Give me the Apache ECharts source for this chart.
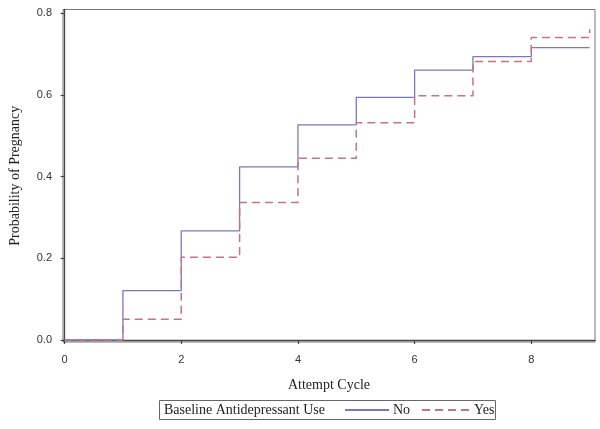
<!DOCTYPE html>
<html><head><meta charset="utf-8">
<script src="https://cdn.jsdelivr.net/npm/echarts@6/dist/echarts.min.js"></script>
<style>html,body{margin:0;padding:0;background:#fff}#c{width:600px;height:429px}</style>
</head><body><div id="c"></div>
<script>
const cycles = [0,1,2,3,4,5,6,7,8,9];
const noValues  = [0,0.121,0.267,0.424,0.527,0.594,0.661,0.694,0.716,0.716];
const yesValues = [0,0.051,0.2025,0.337,0.445,0.532,0.598,0.682,0.741,0.761];
const xTicks = [0,2,4,6,8];
const yTicks = [0,0.2,0.4,0.6,0.8];
const legendTitle = 'Baseline Antidepressant Use';

const chart = echarts.init(document.getElementById('c'), null, {renderer:'canvas'});
const serif = 'Liberation Serif';
const sans = 'Liberation Sans';
const axisColor = '#444';
chart.setOption({
  animation:false,
  grid:{left:61,right:5,top:9.5,bottom:87,show:true,borderColor:'#777',borderWidth:1,backgroundColor:'transparent'},
  xAxis:{type:'value',min:-0.027,max:9.092,
    name:'Attempt Cycle',nameLocation:'middle',nameGap:36,
    nameTextStyle:{fontFamily:serif,fontSize:14,color:'#222'},
    axisLine:{show:true,lineStyle:{color:axisColor,width:1.3}},
    axisTick:{show:true,length:4,customValues:xTicks,lineStyle:{color:axisColor,width:1.2}},
    axisLabel:{customValues:xTicks,margin:12,fontFamily:sans,fontSize:11,color:'#333',formatter:v=>String(v)},
    splitLine:{show:false}},
  yAxis:{type:'value',min:-0.0049,max:0.8093,
    name:'Probability of Pregnancy',nameLocation:'middle',nameGap:41,nameRotate:90,
    nameTextStyle:{fontFamily:serif,fontSize:14,color:'#222'},
    axisLine:{show:true,lineStyle:{color:axisColor,width:1.3}},
    axisTick:{show:true,length:4,customValues:yTicks,lineStyle:{color:axisColor,width:1.2}},
    axisLabel:{customValues:yTicks,margin:11,fontFamily:sans,fontSize:11,color:'#333',formatter:v=>v.toFixed(1)},
    splitLine:{show:false}},
  legend:[
    {data:['No'],left:344,top:403,itemWidth:44,itemHeight:10,padding:0,itemGap:0,
      itemStyle:{opacity:0,borderWidth:0},
      textStyle:{fontFamily:serif,fontSize:14,color:'#222',padding:[0,0,0,-1]}},
    {data:['Yes'],left:421,top:403,itemWidth:47,itemHeight:10,padding:0,itemGap:0,
      itemStyle:{opacity:0,borderWidth:0},
      textStyle:{fontFamily:serif,fontSize:14,color:'#222'}}
  ],
  graphic:[
    {type:'rect',shape:{x:159.5,y:400.5,width:336,height:19},style:{fill:'none',stroke:'#666',lineWidth:1}},
    {type:'text',left:164,top:403,style:{text:legendTitle,fontFamily:serif,fontSize:14,fill:'#222'}}
  ],
  series:[
    {name:'No',type:'line',step:'end',symbol:'none',
      data:cycles.map((c,i)=>[c,noValues[i]]),
      lineStyle:{color:'#7b78c0',width:1.3,type:'solid'},itemStyle:{color:'#7b78c0'}},
    {name:'Yes',type:'line',step:'end',symbol:'none',
      data:cycles.map((c,i)=>[c,yesValues[i]]),
      lineStyle:{color:'#c27585',width:1.5,type:[8,5]},itemStyle:{color:'#c27585'}}
  ]
});
</script></body></html>
